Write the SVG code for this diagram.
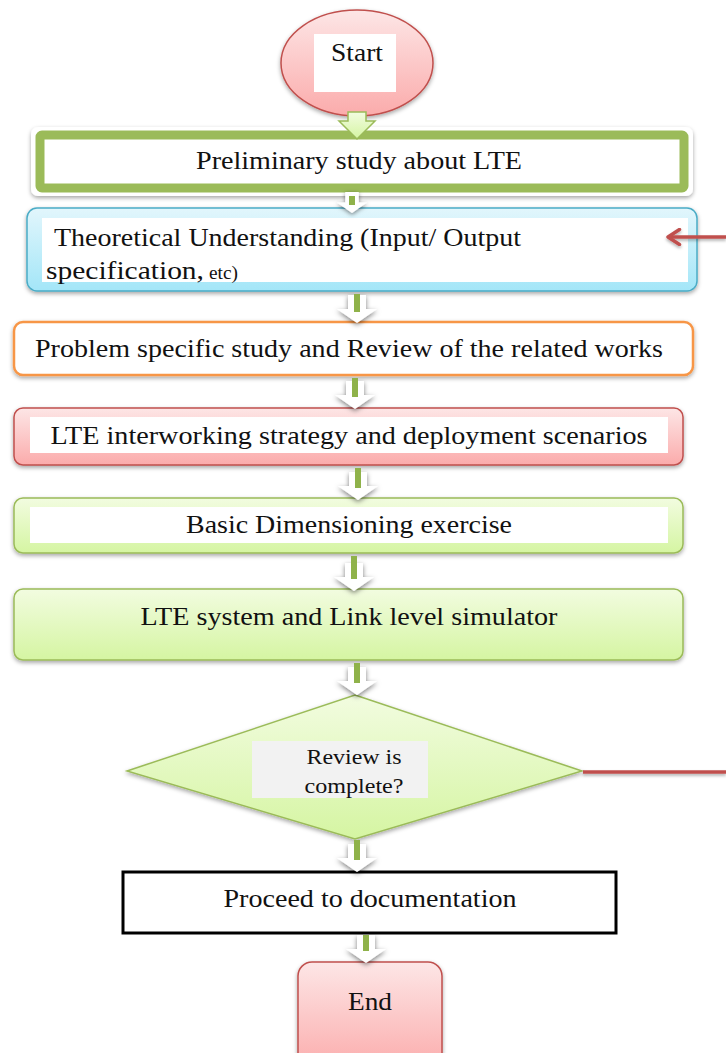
<svg xmlns="http://www.w3.org/2000/svg" width="726" height="1053" viewBox="0 0 726 1053">
  <defs>
    <linearGradient id="gPink" x1="0" y1="0" x2="0" y2="1">
      <stop offset="0" stop-color="#fde6e6"/>
      <stop offset="1" stop-color="#fbabab"/>
    </linearGradient>
    <linearGradient id="gBlue" x1="0" y1="0" x2="0" y2="1">
      <stop offset="0" stop-color="#e2f6fc"/>
      <stop offset="1" stop-color="#a3e6f8"/>
    </linearGradient>
    <linearGradient id="gGreen" x1="0" y1="0" x2="0" y2="1">
      <stop offset="0" stop-color="#f2fce0"/>
      <stop offset="1" stop-color="#d5f5a2"/>
    </linearGradient>
    <filter id="shadow" x="-10%" y="-20%" width="120%" height="150%">
      <feDropShadow dx="0" dy="2" stdDeviation="2" flood-color="#000" flood-opacity="0.35"/>
    </filter>
    <filter id="arrowShadow" x="-40%" y="-40%" width="180%" height="180%">
      <feDropShadow dx="0" dy="2" stdDeviation="2.5" flood-color="#000" flood-opacity="0.5"/>
    </filter>
    <filter id="lineShadow" filterUnits="userSpaceOnUse" x="0" y="0" width="726" height="1053">
      <feDropShadow dx="0" dy="2" stdDeviation="1.5" flood-color="#000" flood-opacity="0.3"/>
    </filter>
    <!-- open chevron head, tip at the line end -->
    <marker id="redHead" viewBox="0 0 16 18" refX="13.5" refY="9" markerWidth="16" markerHeight="18" markerUnits="userSpaceOnUse" orient="auto">
      <path d="M2,1.5 L13.5,9 L2,16.5" fill="none" stroke="#c0504d" stroke-width="3.5" stroke-linecap="round" stroke-linejoin="round"/>
    </marker>
    <!-- hollow block arrow, tip at (0,0) -->
    <path id="blockArrow" d="M-9,-28 L9,-28 L9,-14 L20,-14 L0,0 L-20,-14 L-9,-14 Z"/>
  </defs>
  <style>
    text { font-family: "Liberation Serif", "Times New Roman", serif; fill: #111; }
    .lbl { font-size: 26px; }
    .small { font-size: 18px; }
    .dec { font-size: 21px; }
    .blk { fill: #ffffff; filter: url(#arrowShadow); }
    .shaft { stroke: #8fb24a; stroke-width: 6; }
  </style>

  <rect width="726" height="1053" fill="#ffffff"/>

  <!-- Start -->
  <g id="start">
    <ellipse cx="357" cy="63" rx="76" ry="53" fill="url(#gPink)" stroke="#c0504d" stroke-width="1.5" filter="url(#shadow)"/>
    <rect x="314" y="34" width="82" height="58" fill="#ffffff"/>
    <text x="357" y="61" class="lbl" text-anchor="middle" textLength="52" lengthAdjust="spacingAndGlyphs">Start</text>
  </g>

  <!-- Preliminary study -->
  <g id="preliminary">
    <rect x="31" y="127" width="662" height="69" rx="7" fill="#ffffff" filter="url(#shadow)"/>
    <rect x="40" y="135" width="644" height="53" rx="2" fill="#ffffff" stroke="#9bbb59" stroke-width="9"/>
    <text x="359" y="169" class="lbl" text-anchor="middle" textLength="326" lengthAdjust="spacingAndGlyphs">Preliminary study about LTE</text>
  </g>

  <!-- Theoretical understanding -->
  <g id="theory">
    <rect x="27" y="208" width="670" height="83" rx="10" fill="url(#gBlue)" stroke="#4bacc6" stroke-width="1.5" filter="url(#shadow)"/>
    <rect x="42" y="218" width="646" height="64" fill="#ffffff"/>
    <text x="54" y="246" class="lbl" textLength="467" lengthAdjust="spacingAndGlyphs">Theoretical Understanding (Input/ Output</text>
    <text x="46" y="279" class="lbl" textLength="158" lengthAdjust="spacingAndGlyphs">specification,</text>
    <text x="209" y="279" class="small" textLength="29" lengthAdjust="spacingAndGlyphs">etc)</text>
  </g>

  <!-- Problem specific study -->
  <g id="problem">
    <rect x="14" y="322" width="679" height="53" rx="9" fill="#ffffff" stroke="#f79646" stroke-width="2.5" filter="url(#shadow)"/>
    <text x="349" y="357" class="lbl" text-anchor="middle" textLength="628" lengthAdjust="spacingAndGlyphs">Problem specific study and Review of the related works</text>
  </g>

  <!-- Interworking strategy -->
  <g id="interworking">
    <rect x="14" y="408" width="669" height="57" rx="9" fill="url(#gPink)" stroke="#c0504d" stroke-width="1.5" filter="url(#shadow)"/>
    <rect x="30" y="417" width="638" height="36" fill="#ffffff"/>
    <text x="349" y="444" class="lbl" text-anchor="middle" textLength="597" lengthAdjust="spacingAndGlyphs">LTE interworking strategy and deployment scenarios</text>
  </g>

  <!-- Dimensioning -->
  <g id="dimensioning">
    <rect x="14" y="498" width="669" height="55" rx="9" fill="url(#gGreen)" stroke="#9bbb59" stroke-width="1.5" filter="url(#shadow)"/>
    <rect x="30" y="507" width="638" height="36" fill="#ffffff"/>
    <text x="349" y="533" class="lbl" text-anchor="middle" textLength="326" lengthAdjust="spacingAndGlyphs">Basic Dimensioning exercise</text>
  </g>

  <!-- Simulator -->
  <g id="simulator">
    <rect x="14" y="589" width="669" height="71" rx="9" fill="url(#gGreen)" stroke="#9bbb59" stroke-width="1.5" filter="url(#shadow)"/>
    <text x="349" y="625" class="lbl" text-anchor="middle" textLength="417" lengthAdjust="spacingAndGlyphs">LTE system and Link level simulator</text>
  </g>

  <!-- Decision -->
  <g id="decision">
    <polygon points="355,695 582,771 355,839 127,771" fill="url(#gGreen)" stroke="#9bbb59" stroke-width="1.5" filter="url(#shadow)"/>
    <rect x="252" y="741" width="176" height="57" fill="#f2f2f2"/>
    <text x="354" y="764" class="dec" text-anchor="middle" textLength="95" lengthAdjust="spacingAndGlyphs">Review is</text>
    <text x="354" y="793" class="dec" text-anchor="middle" textLength="99" lengthAdjust="spacingAndGlyphs">complete?</text>
  </g>

  <!-- Documentation -->
  <g id="documentation">
    <rect x="123" y="872" width="493" height="61" fill="#ffffff" stroke="#000000" stroke-width="3"/>
    <text x="370" y="907" class="lbl" text-anchor="middle" textLength="293" lengthAdjust="spacingAndGlyphs">Proceed to documentation</text>
  </g>

  <!-- End -->
  <g id="end">
    <rect x="298" y="962" width="144" height="110" rx="14" fill="url(#gPink)" stroke="#c0504d" stroke-width="1.5" filter="url(#shadow)"/>
    <text x="370" y="1010" class="lbl" text-anchor="middle" textLength="44" lengthAdjust="spacingAndGlyphs">End</text>
  </g>

  <!-- connectors, drawn over the node edges -->
  <g id="connectors">
    <!-- Start to preliminary study: filled green block arrow -->
    <path d="M348,112 L366,112 L366,121 L375,121 L357,139 L339,121 L348,121 Z" fill="url(#gGreen)" stroke="#9bbb59" stroke-width="1.5"/>

    <use href="#blockArrow" transform="translate(352,213) scale(0.75)" class="blk"/>
    <line x1="352" y1="196" x2="352" y2="205" class="shaft"/>

    <use href="#blockArrow" transform="translate(357,323)" class="blk"/>
    <line x1="357" y1="294" x2="357" y2="312" class="shaft"/>

    <use href="#blockArrow" transform="translate(355,409)" class="blk"/>
    <line x1="355" y1="378" x2="355" y2="397" class="shaft"/>

    <use href="#blockArrow" transform="translate(358,500)" class="blk"/>
    <line x1="358" y1="468" x2="358" y2="488" class="shaft"/>

    <use href="#blockArrow" transform="translate(354,591)" class="blk"/>
    <line x1="354" y1="556" x2="354" y2="579" class="shaft"/>

    <use href="#blockArrow" transform="translate(357,695)" class="blk"/>
    <line x1="357" y1="663" x2="357" y2="683" class="shaft"/>

    <use href="#blockArrow" transform="translate(357,872)" class="blk"/>
    <line x1="357" y1="840" x2="357" y2="860" class="shaft"/>

    <use href="#blockArrow" transform="translate(366,963)" class="blk"/>
    <line x1="366" y1="935" x2="366" y2="951" class="shaft"/>

    <!-- loop back from the decision -->
    <line x1="583" y1="772" x2="726" y2="772" stroke="#c0504d" stroke-width="3.5" filter="url(#lineShadow)"/>
    <line x1="726" y1="237" x2="668" y2="237" stroke="#c0504d" stroke-width="3.5" marker-end="url(#redHead)" filter="url(#lineShadow)"/>
  </g>
</svg>
